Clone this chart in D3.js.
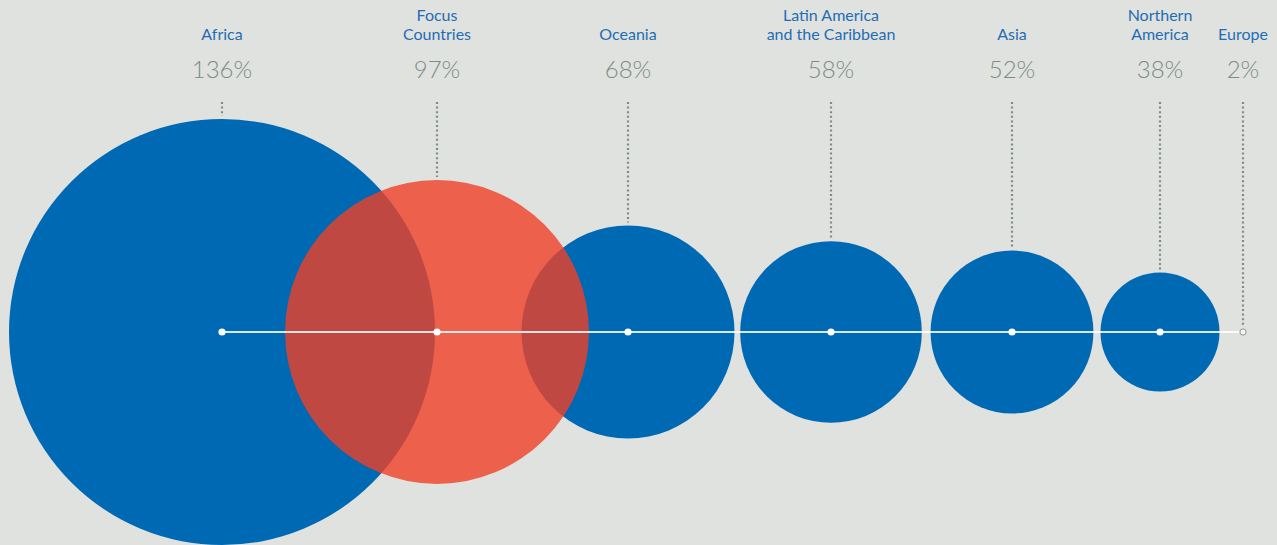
<!DOCTYPE html>
<html><head><meta charset="utf-8">
<script src="https://cdn.jsdelivr.net/npm/d3@7"></script>
<style>
html,body{margin:0;padding:0;background:#e0e2df;}
svg{display:block;}
</style></head>
<body>
<svg id="chart" width="1277" height="545"></svg>
<script>
// ---- data ----
const categories = ["Africa", "Focus Countries", "Oceania", "Latin America and the Caribbean", "Asia", "Northern America", "Europe"];
const labelLines = [["Africa"], ["Focus", "Countries"], ["Oceania"], ["Latin America", "and the Caribbean"], ["Asia"], ["Northern", "America"], ["Europe"]];
const values = [136, 97, 68, 58, 52, 38, 2];
const valueLabels = ["136%", "97%", "68%", "58%", "52%", "38%", "2%"];
const highlighted = ["Focus Countries"];

// ---- layout ----
const W = 1277, H = 545, cy = 332;
const svg = d3.select("#chart");
const x = d3.scaleOrdinal().domain(categories).range([222, 437, 628, 831, 1012, 1160, 1243]);
const r = d3.scaleLinear().domain([0, 136]).range([0, 213]);

const data = categories.map((c, i) => ({ c, v: values[i], lines: labelLines[i], lab: valueLabels[i], hi: highlighted.includes(c) }));

// circles: blue first, highlighted on top with transparency
const big = data.filter(d => d.v > 5);
svg.append("g").selectAll("circle").data(big.filter(d => !d.hi)).join("circle")
  .attr("cx", d => x(d.c)).attr("cy", cy).attr("r", d => r(d.v))
  .attr("fill", "#0069b4");
svg.append("g").selectAll("circle").data(big.filter(d => d.hi)).join("circle")
  .attr("cx", d => x(d.c)).attr("cy", cy).attr("r", d => r(d.v))
  .attr("fill", "rgb(240,64,38)").attr("fill-opacity", 0.8);

// dotted leader lines
svg.append("g").selectAll("line").data(data).join("line")
  .attr("x1", d => x(d.c)).attr("x2", d => x(d.c))
  .attr("y1", 102).attr("y2", d => cy - r(d.v) - 3)
  .attr("stroke", "#7f8b88").attr("stroke-width", 2.2)
  .attr("stroke-dasharray", "2,2.6");

// baseline
svg.append("line")
  .attr("x1", x(categories[0])).attr("x2", x(categories[categories.length - 1]) - r(values[values.length - 1]))
  .attr("y1", cy).attr("y2", cy)
  .attr("stroke", "#ffffff").attr("stroke-opacity", 0.85).attr("stroke-width", 2);

// dots
svg.append("g").selectAll("circle").data(big).join("circle")
  .attr("cx", d => x(d.c)).attr("cy", cy).attr("r", 3.6).attr("fill", "#ffffff");
// small circle (tiny value)
svg.append("g").selectAll("circle").data(data.filter(d => d.v <= 5)).join("circle")
  .attr("cx", d => x(d.c)).attr("cy", cy).attr("r", d => r(d.v))
  .attr("fill", "#f2f3f1").attr("stroke", "#8a9794").attr("stroke-width", 1);

// category labels
const lab = svg.append("g").selectAll("text").data(data).join("text")
  .attr("x", d => x(d.c))
  .attr("text-anchor", "middle")
  .attr("font-family", "Lato, 'Noto Sans', sans-serif")
  .attr("font-size", 16)
  .attr("fill", "#1f6db5");
lab.each(function(d) {
  const t = d3.select(this);
  const n = d.lines.length;
  d.lines.forEach((ln, j) => {
    t.append("tspan").attr("x", x(d.c)).attr("y", 40 - (n - 1 - j) * 19).text(ln);
  });
});

// value labels
svg.append("g").selectAll("text").data(data).join("text")
  .attr("x", d => x(d.c)).attr("y", 78)
  .attr("text-anchor", "middle")
  .attr("font-family", "Lato, 'Noto Sans', sans-serif")
  .attr("font-weight", 300)
  .attr("font-size", 24)
  .attr("fill", "#7e8b88")
  .text(d => d.lab);
</script>
</body></html>
